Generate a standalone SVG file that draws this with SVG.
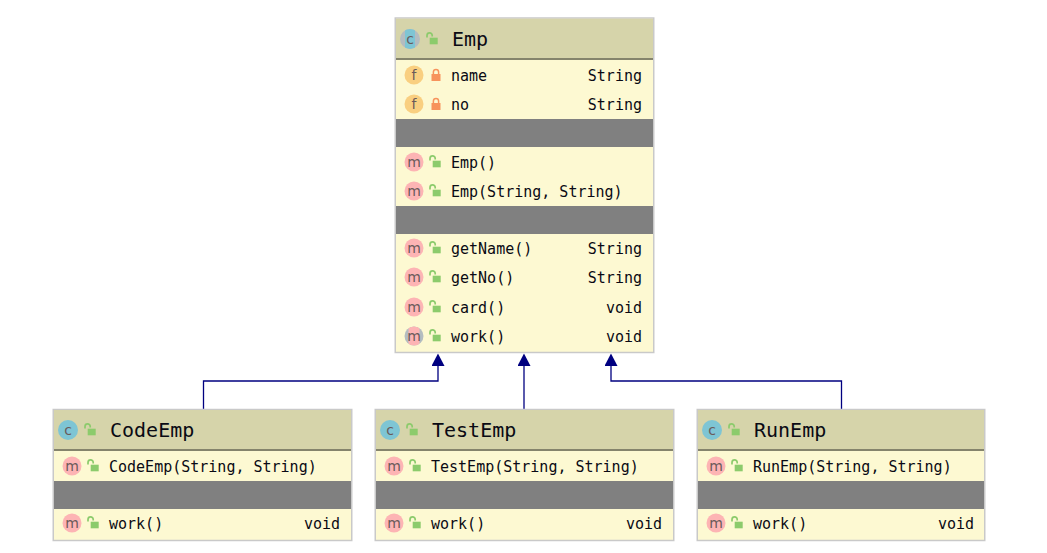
<svg xmlns="http://www.w3.org/2000/svg" width="1047" height="553" viewBox="0 0 1047 553">
<style>
text{font-family:"DejaVu Sans Mono","Liberation Mono",monospace;fill:#0a0a14}
.t{font-size:20px}.m{font-size:15px}.r{font-size:15px;text-anchor:end}
.box{fill:#fdf9d2;stroke:#c9c9c9;stroke-width:1.5}
.head{fill:#d6d4aa}.rule{fill:#85846c}.sep{fill:#808080}
.ico{font-family:"DejaVu Sans","Liberation Sans",sans-serif;font-size:14px;text-anchor:middle;fill:#6a5a5a}
.conn{fill:none;stroke:#000080;stroke-width:1.3}
</style>
<defs>
<marker id="tri" markerUnits="userSpaceOnUse" markerWidth="13" markerHeight="13" refX="0" refY="6.5" orient="auto" viewBox="0 0 13 13"><path d="M0 0L12.500 6.500L0 13Z" fill="#000080"/></marker>
<g id="open"><path d="M-5 -1.500v-2a2.600 2.600 0 0 1 5.200 0v1" fill="none" stroke="#8ccb6c" stroke-width="1.700"/><rect x="-2.300" y="-1.300" width="8" height="6.600" fill="#8ccb6c"/></g>
<g id="lock"><path d="M-2.600 -1v-2a2.600 2.600 0 0 1 5.200 0v2" fill="none" stroke="#f7935c" stroke-width="1.500"/><rect x="-4.500" y="-1" width="9" height="7" fill="#f7935c"/></g>
<circle id="cm" r="9.500" fill="#fdb4b4"/>
<circle id="cf" r="9.500" fill="#f9cf80"/>
<circle id="cc" r="10" fill="#7ec5d4"/>
<clipPath id="clipC"><circle cx="410" cy="39" r="10"/></clipPath>
<clipPath id="clipM"><circle cx="414" cy="336" r="9.500"/></clipPath>
</defs>

<g id="connectors">
<path class="conn" d="M203.500 409V381H438V366" marker-end="url(#tri)"/>
<path class="conn" d="M524 409V366" marker-end="url(#tri)"/>
<path class="conn" d="M841.500 409V381H611V366" marker-end="url(#tri)"/>
</g>

<g id="node-emp">
<rect class="box" x="395.250" y="18" width="258.500" height="334.500"/>
<rect class="head" x="396" y="18.750" width="257" height="39.250"/>
<rect class="rule" x="396" y="58" width="257" height="2"/>
<rect class="sep" x="396" y="119" width="257" height="28"/>
<rect class="sep" x="396" y="206" width="257" height="28"/>
<circle cx="410" cy="39" r="10" fill="#b4bcc0"/><rect x="405" y="29" width="10" height="20" fill="#7ec5d4" clip-path="url(#clipC)"/>
<text class="ico" x="410" y="44">c</text><use href="#open" x="432" y="39"/>
<text class="t" x="452" y="46">Emp</text>

<use href="#cf" x="414" y="75"/><text class="ico" x="414" y="80">f</text><use href="#lock" x="436" y="75"/>
<text class="m" x="451" y="81">name</text><text class="r" x="642" y="81">String</text>
<use href="#cf" x="414" y="104"/><text class="ico" x="414" y="109">f</text><use href="#lock" x="436" y="104"/>
<text class="m" x="451" y="110">no</text><text class="r" x="642" y="110">String</text>

<use href="#cm" x="414" y="162"/><text class="ico" x="414" y="167">m</text><use href="#open" x="435" y="162"/>
<text class="m" x="451" y="168">Emp()</text>
<use href="#cm" x="414" y="191"/><text class="ico" x="414" y="196">m</text><use href="#open" x="435" y="191"/>
<text class="m" x="451" y="197">Emp(String, String)</text>

<use href="#cm" x="414" y="248"/><text class="ico" x="414" y="253">m</text><use href="#open" x="435" y="248"/>
<text class="m" x="451" y="254">getName()</text><text class="r" x="642" y="254">String</text>
<use href="#cm" x="414" y="277"/><text class="ico" x="414" y="282">m</text><use href="#open" x="435" y="277"/>
<text class="m" x="451" y="283">getNo()</text><text class="r" x="642" y="283">String</text>
<use href="#cm" x="414" y="307"/><text class="ico" x="414" y="312">m</text><use href="#open" x="435" y="307"/>
<text class="m" x="451" y="313">card()</text><text class="r" x="642" y="313">void</text>
<circle cx="414" cy="336" r="9.500" fill="#b4bcc0"/><rect x="408.500" y="326" width="11" height="20" fill="#fdb4b4" clip-path="url(#clipM)"/>
<text class="ico" x="414" y="341">m</text><use href="#open" x="435" y="336"/>
<text class="m" x="451" y="342">work()</text><text class="r" x="642" y="342">void</text>
</g>

<g id="node-codeemp">
<rect class="box" x="53.250" y="409.500" width="298.500" height="131"/>
<rect class="head" x="54" y="410" width="297" height="39"/>
<rect class="rule" x="54" y="449" width="297" height="2"/>
<rect class="sep" x="54" y="481" width="297" height="28"/>
<use href="#cc" x="68" y="430"/><text class="ico" x="68" y="435">c</text><use href="#open" x="90" y="430"/>
<text class="t" x="110" y="437">CodeEmp</text>
<use href="#cm" x="72" y="466"/><text class="ico" x="72" y="471">m</text><use href="#open" x="93" y="466"/>
<text class="m" x="109" y="472">CodeEmp(String, String)</text>
<use href="#cm" x="72" y="523"/><text class="ico" x="72" y="528">m</text><use href="#open" x="93" y="523"/>
<text class="m" x="109" y="529">work()</text><text class="r" x="340" y="529">void</text>
</g>

<g id="node-testemp">
<rect class="box" x="375.250" y="409.500" width="298.500" height="131"/>
<rect class="head" x="376" y="410" width="297" height="39"/>
<rect class="rule" x="376" y="449" width="297" height="2"/>
<rect class="sep" x="376" y="481" width="297" height="28"/>
<use href="#cc" x="390" y="430"/><text class="ico" x="390" y="435">c</text><use href="#open" x="412" y="430"/>
<text class="t" x="432" y="437">TestEmp</text>
<use href="#cm" x="394" y="466"/><text class="ico" x="394" y="471">m</text><use href="#open" x="415" y="466"/>
<text class="m" x="431" y="472">TestEmp(String, String)</text>
<use href="#cm" x="394" y="523"/><text class="ico" x="394" y="528">m</text><use href="#open" x="415" y="523"/>
<text class="m" x="431" y="529">work()</text><text class="r" x="662" y="529">void</text>
</g>

<g id="node-runemp">
<rect class="box" x="697.250" y="409.500" width="287.500" height="131"/>
<rect class="head" x="698" y="410" width="286" height="39"/>
<rect class="rule" x="698" y="449" width="286" height="2"/>
<rect class="sep" x="698" y="481" width="286" height="28"/>
<use href="#cc" x="712" y="430"/><text class="ico" x="712" y="435">c</text><use href="#open" x="734" y="430"/>
<text class="t" x="754" y="437">RunEmp</text>
<use href="#cm" x="716" y="466"/><text class="ico" x="716" y="471">m</text><use href="#open" x="737" y="466"/>
<text class="m" x="753" y="472">RunEmp(String, String)</text>
<use href="#cm" x="716" y="523"/><text class="ico" x="716" y="528">m</text><use href="#open" x="737" y="523"/>
<text class="m" x="753" y="529">work()</text><text class="r" x="974" y="529">void</text>
</g>
</svg>
